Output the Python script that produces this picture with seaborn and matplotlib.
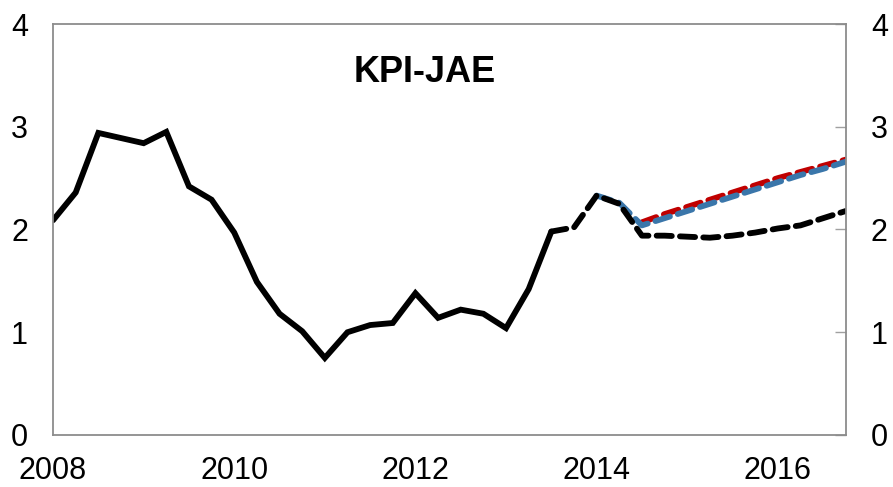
import numpy as np
import pandas as pd
import seaborn as sns
import matplotlib.pyplot as plt

sns.set_style("white")
plt.rcParams['font.family'] = ['Liberation Sans', 'DejaVu Sans']

# quarterly observations, 2008Q1 .. 2016Q4
quarters = [2008 + 0.25 * i for i in range(36)]

actual = [2.09, 2.36, 2.94, 2.89, 2.84, 2.95, 2.42, 2.29, 1.97, 1.49,
          1.18, 1.01, 0.75, 1.00, 1.07, 1.09, 1.38, 1.14, 1.22, 1.18,
          1.04, 1.42, 1.98] + [np.nan] * 13
black_fc = [np.nan] * 22 + [1.98, 2.02, 2.33, 2.25, 1.94, 1.94, 1.93, 1.92,
                            1.94, 1.97, 2.01, 2.04, 2.11, 2.18]
blue_fc = [np.nan] * 24 + [2.33, 2.26, 2.04, 2.11, 2.18, 2.25, 2.32, 2.39,
                           2.46, 2.53, 2.59, 2.66]
red_fc = [np.nan] * 26 + [2.07, 2.15, 2.22, 2.29, 2.36, 2.43, 2.50, 2.56,
                          2.62, 2.68]

df = pd.DataFrame({'date': quarters, 'actual': actual, 'black': black_fc,
                   'blue': blue_fc, 'red': red_fc})

fig = plt.figure(figsize=(8.93, 4.87), dpi=100)
ax = fig.add_axes([0.0594, 0.1068, 0.8877, 0.8439])

dash = (2.6, 1.4)
sns.lineplot(data=df, x='date', y='red', ax=ax, color='#c00000', lw=4.2)
ax.lines[-1].set_dashes(dash)
sns.lineplot(data=df, x='date', y='blue', ax=ax, color='#3a76aa', lw=4.2)
ax.lines[-1].set_dashes(dash)
sns.lineplot(data=df, x='date', y='black', ax=ax, color='black', lw=4.2)
ax.lines[-1].set_dashes(dash)
sns.lineplot(data=df, x='date', y='actual', ax=ax, color='black', lw=4.2)
for ln in ax.lines:
    ln.set_dash_capstyle('round')
    ln.set_solid_joinstyle('miter')

ax.set_xlim(2008, 2016.75)
ax.set_ylim(0, 4)
ax.set_xticks([2008, 2010, 2012, 2014, 2016])
ax.set_yticks([0, 1, 2, 3, 4])
ax.set_xlabel('')
ax.set_ylabel('')

for s in ax.spines.values():
    s.set_color('#8c8c8c')
    s.set_linewidth(1.3)

ax.tick_params(axis='both', direction='in', length=8, width=1,
               color='#a0a0a0', labelsize=22, labelcolor='black')
ax.tick_params(axis='x', pad=15)
ax.tick_params(axis='y', pad=18, right=True, labelright=True)

ax.text(0.469, 0.883, 'KPI-JAE', transform=ax.transAxes, ha='center',
        va='center', fontsize=26, fontweight='bold', color='black')

fig.savefig('out.png', dpi=100)
